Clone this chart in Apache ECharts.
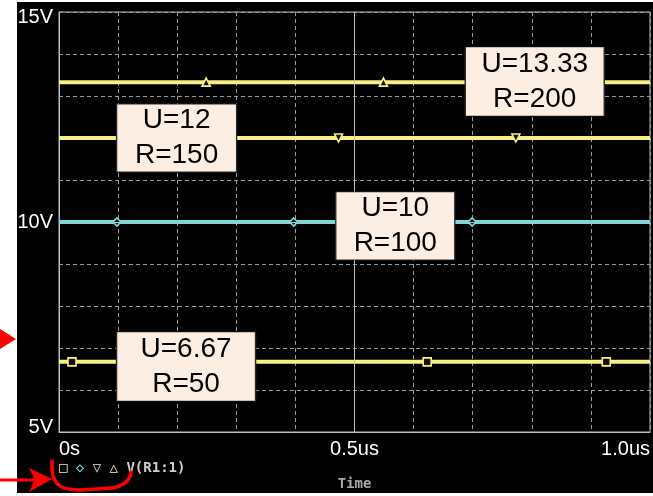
<!DOCTYPE html>
<html>
<head>
<meta charset="utf-8">
<script src="https://cdn.jsdelivr.net/npm/echarts@6/dist/echarts.min.js"></script>
<style>
html,body{margin:0;padding:0;background:#fff;}
#c{width:653px;height:496px;}
</style>
</head>
<body>
<div id="c"></div>
<script>
// ---- data ----
const xTickValues = [0, 0.5, 1.0];
const xTickLabels = ['0s', '0.5us', '1.0us'];
const yTickValues = [5, 10, 15];
const yTickLabels = ['5V', '10V', '15V'];
const seriesU = [6.67, 10, 12, 13.33];
const seriesR = [50, 100, 150, 200];
const markersSquare = [0.022, 0.322, 0.623, 0.926];
const markersDiamond = [0.098, 0.397, 0.699];
const markersTriDown = [0.173, 0.473, 0.773];
const markersTriUp = [0.249, 0.549, 0.848];
const annotationX = [0.215, 0.569, 0.199, 0.805];
const annotationY = [6.56, 9.905, 12.0, 13.345];

const yellow = '#f5f184';
const cyan = '#6ae0e4';
const markerSets = [markersSquare, markersDiamond, markersTriDown, markersTriUp];
const colors = [yellow, cyan, yellow, yellow];
const symbols = ['rect', 'diamond', 'triangle', 'triangle'];
const rotations = [0, 0, 180, 0];
const boxSizes = [[139, 69], [119, 68], [120, 68], [139, 69]];

function near(a, b) { return Math.abs(a - b) < 1e-6; }

const lineSeries = seriesU.map((u, i) => {
  const pts = [[0, u]].concat(markerSets[i].map(t => [t, u])).concat([[1.0, u]]);
  return {
    type: 'line',
    name: 'U' + i,
    data: pts,
    z: 3,
    animation: false,
    symbol: (v, p) => (p.dataIndex === 0 || p.dataIndex === pts.length - 1) ? 'none' : symbols[i],
    symbolSize: 8,
    symbolRotate: rotations[i],
    showAllSymbol: true,
    lineStyle: { color: colors[i], width: 4 },
    itemStyle: { color: '#111', borderColor: colors[i], borderWidth: 1.6 }
  };
});

const annSeries = {
  type: 'scatter',
  z: 10,
  animation: false,
  data: seriesU.map((u, i) => ({
    value: [annotationX[i], annotationY[i]],
    symbolSize: boxSizes[i],
    label: { formatter: 'U=' + u + '\nR=' + seriesR[i] }
  })),
  symbol: 'rect',
  itemStyle: { color: '#fdeee4', borderColor: '#2a2a2a', borderWidth: 1, opacity: 1 },
  label: {
    show: true, position: 'inside', color: '#000',
    fontFamily: 'Liberation Sans', fontSize: 28, lineHeight: 35
  }
};

const refSeries = {
  type: 'line', data: [], z: 1, animation: false,
  markLine: {
    silent: true, symbol: 'none', animation: false,
    label: { show: false },
    lineStyle: { color: '#bdbdbd', width: 1, type: 'solid' },
    data: [{ xAxis: 0.5 }, { yAxis: 10 }]
  }
};

const red = '#ff0000';
const mono = 'DejaVu Sans Mono';
const chart = echarts.init(document.getElementById('c'));
chart.setOption({
  backgroundColor: 'transparent',
  animation: false,
  grid: { left: 59, top: 12, right: 1, bottom: 64, show: true, borderColor: '#bdbdbd', borderWidth: 1 },
  xAxis: {
    type: 'value', min: 0, max: 1.0, interval: 0.1,
    name: 'Time', nameLocation: 'middle', nameGap: 45,
    nameTextStyle: { color: '#a8a8a8', fontFamily: mono, fontSize: 14, fontWeight: 'bold' },
    axisLine: { show: true, lineStyle: { color: '#bdbdbd', width: 1 } },
    axisTick: { show: false },
    splitLine: { show: true, lineStyle: { color: '#9a9a9a', width: 1, type: [4, 3] } },
    axisLabel: {
      color: '#fff', fontFamily: 'Liberation Sans', fontSize: 20, margin: 7,
      alignMinLabel: 'left', alignMaxLabel: 'right',
      formatter: v => { const k = xTickValues.findIndex(t => near(t, v)); return k >= 0 ? xTickLabels[k] : ''; }
    }
  },
  yAxis: {
    type: 'value', min: 5, max: 15, interval: 1,
    axisLine: { show: true, lineStyle: { color: '#bdbdbd', width: 1 } },
    axisTick: { show: false },
    splitLine: { show: true, lineStyle: { color: '#9a9a9a', width: 1, type: [4, 3] } },
    axisLabel: {
      color: '#fff', fontFamily: 'Liberation Sans', fontSize: 20, margin: 6,
      formatter: v => {
        const k = yTickValues.findIndex(t => near(t, v));
        if (k < 0) return '';
        if (k === 0) return '{b|' + yTickLabels[k] + '}';
        if (k === yTickValues.length - 1) return '{t|' + yTickLabels[k] + '}';
        return yTickLabels[k];
      },
      rich: {
        t: { color: '#fff', fontFamily: 'Liberation Sans', fontSize: 20, padding: [10, 0, 0, 0] },
        b: { color: '#fff', fontFamily: 'Liberation Sans', fontSize: 20, padding: [0, 0, 10, 0] }
      }
    }
  },
  graphic: [
    { type: 'rect', z: -100, silent: true, shape: { x: 17, y: 2, width: 636, height: 491 }, style: { fill: '#000' } },
    {
      type: 'text', x: 59, y: 468, z: 5, silent: true,
      style: {
        text: '{s|□} {d|◇} {v|▽} {u|△} {n|V(R1:1)}',
        verticalAlign: 'middle',
        font: 'bold 14px "DejaVu Sans Mono"',
        fill: '#d8d8d8',
        rich: {
          s: { fill: '#eceab0', fontFamily: mono, fontSize: 14, fontWeight: 'bold' },
          d: { fill: '#86d4d4', fontFamily: mono, fontSize: 14, fontWeight: 'bold' },
          v: { fill: '#ecead0', fontFamily: mono, fontSize: 14, fontWeight: 'bold' },
          u: { fill: '#ecead0', fontFamily: mono, fontSize: 14, fontWeight: 'bold' },
          n: { fill: '#d0d0d0', fontFamily: mono, fontSize: 14, fontWeight: 'bold' }
        }
      }
    },
    { type: 'polygon', z: 20, silent: true, shape: { points: [[0, 329], [16, 339], [0, 349]] }, style: { fill: red } },
    { type: 'line', z: 20, silent: true, shape: { x1: 0, y1: 480, x2: 36, y2: 480 }, style: { stroke: red, lineWidth: 3 } },
    { type: 'polygon', z: 20, silent: true, shape: { points: [[29, 468], [52, 479], [29, 492], [35, 480]] }, style: { fill: red } },
    { type: 'bezierCurve', z: 20, silent: true, shape: { x1: 52, y1: 461, cpx1: 51, cpy1: 484, cpx2: 58, cpy2: 490, x2: 80, y2: 490 }, style: { stroke: red, lineWidth: 3.5, fill: null, lineCap: 'round' } },
    { type: 'line', z: 20, silent: true, shape: { x1: 80, y1: 490, x2: 112, y2: 488 }, style: { stroke: red, lineWidth: 3.5, lineCap: 'round' } },
    { type: 'bezierCurve', z: 20, silent: true, shape: { x1: 112, y1: 488, cpx1: 124, cpy1: 486, cpx2: 130, cpy2: 480, x2: 131, y2: 472 }, style: { stroke: red, lineWidth: 3.5, fill: null, lineCap: 'round' } }
  ],
  series: [refSeries].concat(lineSeries).concat([annSeries])
});
</script>
</body>
</html>
